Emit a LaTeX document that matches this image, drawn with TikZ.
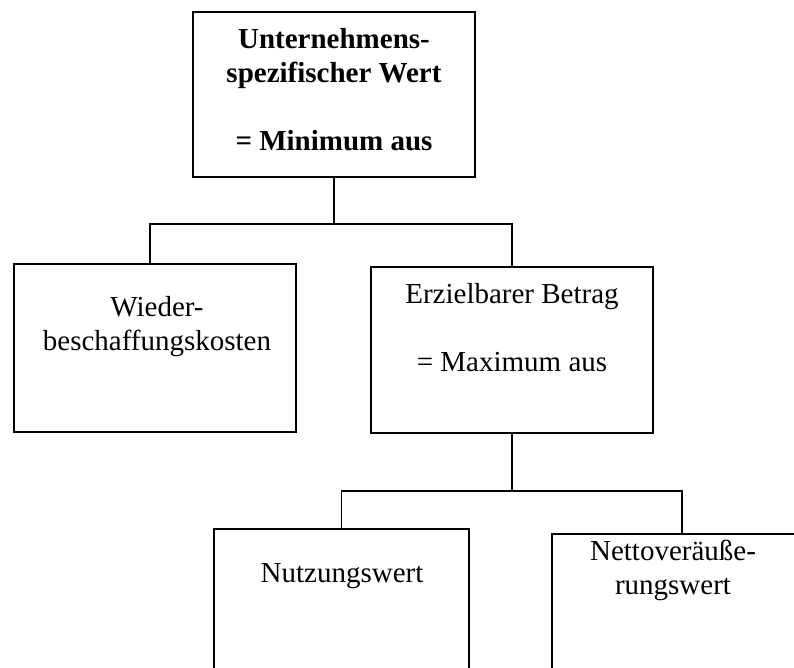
\documentclass[tikz,border=0pt]{standalone}
\usepackage{fontspec}
\setmainfont{Liberation Serif}
\usepackage{tikz}
\newcommand{\lblfont}{\fontsize{21.75pt}{25.5pt}\selectfont}

\begin{document}
\begin{tikzpicture}[x=0.75pt, y=-0.75pt,
    box/.style={draw, rectangle, line width=1pt, inner sep=0pt},
    txt/.style={anchor=north, align=center, inner sep=0pt, font=\lblfont}]

  \useasboundingbox (0,0) rectangle (794,668);
  \clip (0,0) rectangle (794,668);

  \node[box, minimum width=211.5pt, minimum height=123.75pt] (a) at (334, 94.5) {};
  \node[box, minimum width=211.5pt, minimum height=126pt] (b) at (155, 348) {};
  \node[box, minimum width=211.5pt, minimum height=124.5pt] (c) at (512, 350) {};
  \node[box, minimum width=191.25pt, minimum height=128.25pt] (d) at (341.5, 614.5) {};
  \node[box, minimum width=195pt, minimum height=124.5pt] (e) at (682, 617) {};

  \node[txt, font=\lblfont\bfseries] (ta) at (334, 28) {Unternehmens-\\spezifischer Wert\\[25.5pt]= Minimum aus};
  \node[txt] (tb) at (157, 296) {Wieder-\\beschaffungskosten};
  \node[txt] (tc) at (512, 283) {Erzielbarer Betrag\\[25.5pt]= Maximum aus};
  \node[txt] (td) at (342, 563) {Nutzungswert};
  \node[txt] (te) at (673, 540) {Nettoveräuße-\\rungswert};

  \coordinate (m) at (334, 224);
  \coordinate (n) at (512, 491);

  \draw[line width=1pt] (a.south) -- (m);
  \draw[line width=1pt] (m) -| ([xshift=-3.75pt]b.north);
  \draw[line width=1pt] (m) -| (c.north);
  \draw[line width=1pt] (c.south) -- (n);
  \draw[line width=1pt] (n) -| (d.north);
  \draw[line width=1pt] (n) -| (e.north);
\end{tikzpicture}
\end{document}
